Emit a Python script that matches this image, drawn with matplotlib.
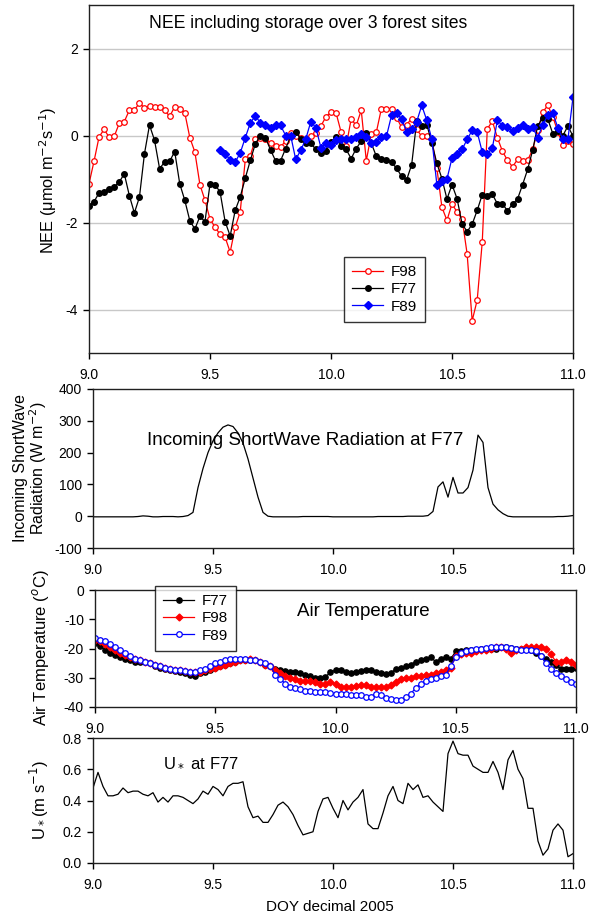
import numpy as np
import matplotlib
matplotlib.use("Agg")
import matplotlib.pyplot as plt

plt.rcParams['font.family'] = ['Liberation Sans', 'DejaVu Sans']
plt.rcParams['axes.unicode_minus'] = False

# half-hourly values, DOY 9.0 .. 11.0 (97 points)
nee_f98 = [-1.11, -0.59, -0.03, 0.14, -0.04, -0.02, 0.28, 0.32, 0.58, 0.58,
           0.75, 0.63, 0.68, 0.66, 0.66, 0.58, 0.44, 0.66, 0.62, 0.52,
           -0.05, -0.38, -1.13, -1.49, -1.92, -2.11, -2.27, -2.34, -2.68, -2.11,
           -1.75, -0.55, -0.46, -0.09, -0.05, -0.08, -0.17, -0.25, -0.26, -0.13,
           0.06, 0.0, -0.05, -0.15, -0.02, 0.06, 0.22, 0.43, 0.54, 0.52,
           0.08, -0.25, 0.38, 0.23, 0.58, -0.58, 0.04, 0.08, 0.62, 0.62,
           0.60, 0.41, 0.19, 0.25, 0.39, 0.14, -0.02, 0.0, -0.09, -0.75,
           -1.65, -1.95, -1.57, -1.76, -1.92, -2.72, -4.26, -3.78, -2.45, 0.15,
           0.33, -0.05, -0.36, -0.57, -0.72, -0.55, -0.58, -0.57, -0.32, 0.12,
           0.54, 0.69, 0.43, 0.08, -0.21, -0.13, -0.19]

nee_f77 = [-1.61, -1.52, -1.32, -1.31, -1.22, -1.18, -1.07, -0.88, -1.38, -1.78,
           -1.42, -0.42, 0.24, -0.11, -0.76, -0.61, -0.59, -0.37, -1.11, -1.49,
           -1.96, -2.15, -1.86, -1.98, -1.12, -1.13, -1.30, -1.98, -2.31, -1.72,
           -1.41, -0.98, -0.57, -0.19, 0.0, -0.05, -0.33, -0.58, -0.58, -0.30,
           -0.02, 0.08, -0.08, -0.18, -0.18, -0.32, -0.40, -0.36, -0.15, -0.04,
           -0.23, -0.32, -0.53, -0.30, -0.13, 0.05, -0.18, -0.48, -0.55, -0.57,
           -0.62, -0.75, -0.94, -1.02, -0.67, 0.33, 0.22, 0.25, -0.17, -0.64,
           -0.99, -1.46, -1.13, -1.45, -2.03, -2.21, -2.04, -1.72, -1.36, -1.38,
           -1.35, -1.57, -1.57, -1.73, -1.58, -1.46, -1.13, -0.78, -0.34, 0.22,
           0.41, 0.38, 0.04, 0.10, 0.0, 0.22, -0.02]

# F89 has no data before DOY 9.54
nee_f89 = [None] * 26 + [
    -0.34, -0.42, -0.56, -0.61, -0.40, -0.05, 0.29, 0.45, 0.29, 0.24,
    0.18, 0.23, 0.23, 0.0, 0.0, -0.55, -0.34, -0.08, 0.32, 0.18,
    -0.28, -0.18, -0.21, -0.11, -0.09, -0.08, -0.07, -0.03, 0.04, -0.03,
    -0.17, -0.15, -0.03, -0.02, 0.46, 0.51, 0.39, 0.08, 0.14, 0.32,
    0.69, 0.35, -0.08, -1.13, -1.05, -1.0, -0.52, -0.42, -0.32, -0.09,
    0.12, 0.08, -0.38, -0.42, -0.29, 0.35, 0.22, 0.2, 0.1, 0.17,
    0.24, 0.15, 0.19, -0.05, 0.25, 0.46, 0.51, 0.18, -0.09, -0.08,
    0.88]

sw_f77 = [-2, -2, -2, -2, -2, -2, -2, -2, -2, -1, 1, 0, -2, -2, -1, -1, -1, -2, -1,
          2, 12, 90, 150, 200, 237, 262, 280, 287, 282, 262, 230, 180, 120, 60, 12, 0,
          -2, -2, -2, -2, -2, -2, -1, -1, -1, -1, -1, -1, -2, -2, -2, -2, -2, -2, -2,
          -2, -2, -1, -1, -1, -1, -1, -1, 0, 0, 0, 0,
          2, 15, 92, 108, 60, 122, 73, 73, 90, 145, 255, 232, 90, 38, 20, 8, 0,
          -2, -2, -2, -2, -2, -2, -2, -2, -2, -1, -1, 0, 2]

ta_f77 = [-18, -19, -20.5, -21.5, -22.3, -23, -23.5, -24, -24.5, -24.5,
          -24.5, -25, -26, -26.5, -27, -27.5, -27.8, -28, -28.5, -29,
          -29.3, -28.5, -28, -27.5, -26.5, -26, -25.5, -25, -24.5, -24,
          -23.8, -23.8, -24, -24.5, -25.5, -26, -27, -27.5, -27.8, -28,
          -28.2, -28.5, -29, -29.5, -30, -30.2, -29.8, -28, -27.5, -27.5,
          -28, -28.3, -28, -27.8, -27.5, -27.5, -28, -28.5, -28.8, -28.5,
          -27, -26.5, -26, -25.5, -24.5, -24, -23.5, -23, -24.5, -23.5,
          -23, -23.5, -21, -20.8, -20.5, -20.5, -20.5, -20.3, -20, -20,
          -20, -19.5, -19.5, -19.8, -20, -20, -20, -20.5, -21.5, -22.5,
          -23.5, -24.5, -25.5, -27, -27, -27, -26.8]

ta_f98 = [-17, -17.5, -18.5, -19.5, -20.5, -21.5, -22.3, -23, -23.5, -24,
          -24.5, -25, -25.5, -26, -26.5, -27, -27.2, -27.5, -27.8, -28,
          -28, -28, -27.5, -27, -26.5, -26, -25.5, -25, -24.5, -24,
          -23.8, -23.5, -24, -24.5, -25.5, -26, -27.5, -28.5, -29.5, -30,
          -30.5, -31, -31, -31, -31.5, -32, -32, -31.5, -32, -33,
          -33, -33, -32.8, -32.5, -32.5, -33, -33, -33, -33.2, -32.5,
          -31.5, -30.5, -30, -30, -29.5, -29.5, -29, -29, -28.5, -28,
          -27.5, -26.5, -22.5, -22, -21.5, -21.5, -21, -20.5, -20.5, -20,
          -19.5, -19.5, -20, -21.5, -20.5, -20, -19.5, -19.5, -19.5, -19.5,
          -20, -22, -24.5, -24.5, -24, -24.5, -25.5]

ta_f89 = [-16.5, -17, -17.5, -18.5, -19.5, -20.5, -21.5, -22.5, -23.5, -24,
          -24.5, -25, -25.5, -26, -26.5, -27, -27.2, -27.5, -27.8, -28,
          -28, -27.5, -27, -26, -25, -24.5, -24, -23.5, -23.5, -23.5,
          -23.5, -23.8, -24, -24.5, -25, -26, -29, -30.5, -32, -33,
          -33.5, -34, -34.5, -34.5, -35, -35, -35, -35.3, -35.5, -35.5,
          -35.5, -36, -36, -36, -36.5, -36.5, -35.5, -36, -37, -37.3,
          -37.5, -37.5, -36.5, -35.5, -33.5, -32, -31, -30.5, -30, -29.5,
          -29, -26, -23, -21.5, -21, -20.5, -20.2, -20, -19.8, -19.5,
          -19.5, -19.5, -19.5, -19.8, -20, -20.5, -20.5, -20.5, -21, -22.5,
          -25, -27, -28.5, -29.5, -30.5, -31.5, -32]

ustar_f77 = [0.48, 0.58, 0.49, 0.43, 0.43, 0.44, 0.48, 0.45, 0.46, 0.46,
             0.44, 0.43, 0.45, 0.39, 0.42, 0.39, 0.43, 0.43, 0.42, 0.40,
             0.38, 0.41, 0.46, 0.44, 0.49, 0.47, 0.43, 0.49, 0.51, 0.51,
             0.52, 0.36, 0.29, 0.30, 0.26, 0.26, 0.31, 0.37, 0.39, 0.36,
             0.31, 0.24, 0.18, 0.19, 0.20, 0.33, 0.41, 0.42, 0.35, 0.29,
             0.40, 0.34, 0.39, 0.42, 0.47, 0.25, 0.22, 0.22, 0.32, 0.43,
             0.49, 0.40, 0.38, 0.51, 0.47, 0.50, 0.42, 0.43, 0.39, 0.36,
             0.33, 0.70, 0.78, 0.70, 0.69, 0.69, 0.62, 0.60, 0.58, 0.58,
             0.65, 0.58, 0.47, 0.66, 0.72, 0.60, 0.54, 0.35, 0.35, 0.14,
             0.05, 0.09, 0.21, 0.25, 0.21, 0.04, 0.06]

xticks = [9.0, 9.5, 10.0, 10.5, 11.0]
xticklabels = ['9.0', '9.5', '10.0', '10.5', '11.0']

W, H = 595, 919


def px_axes(fig, left, top, right, bottom):
    # axes rectangle from pixel edges
    return fig.add_axes([left / W, 1 - bottom / H, (right - left) / W, (bottom - top) / H])


def px_text(fig, x, y, s, **kw):
    return fig.text(x / W, 1 - y / H, s, ha='center', va='center', **kw)


def style_axes(ax):
    for s in ax.spines.values():
        s.set_linewidth(1.0)
        s.set_color('#202020')
    ax.tick_params(direction='out', length=4, width=1, labelsize=10,
                   top=False, right=False)
    ax.tick_params(axis='x', pad=6.5)
    ax.tick_params(axis='y', pad=4)
    ax.set_xlim(9.0, 11.0)
    ax.set_xticks(xticks)
    ax.set_xticklabels(xticklabels)


def doy(values):
    return 9.0 + np.arange(len(values)) / 48.0


def box_legend(ax, handles, x, y):
    leg = ax.legend(handles=handles, loc='upper left',
                    bbox_to_anchor=(x / W, 1 - y / H), bbox_transform=fig.transFigure,
                    fontsize=11, frameon=True, fancybox=False, borderaxespad=0,
                    handlelength=2.0, handletextpad=0.5, labelspacing=0.2,
                    borderpad=0.55)
    leg.get_frame().set_edgecolor('black')
    leg.get_frame().set_linewidth(1.0)
    leg.set_zorder(5)
    return leg


fig = plt.figure(figsize=(W / 100, H / 100), dpi=100)

# --- NEE panel
ax1 = px_axes(fig, 89, 5, 573, 353)
style_axes(ax1)
ax1.set_ylim(-5, 3)
ax1.set_yticks([-4, -2, 0, 2])
for yv in [-4, -2, 0, 2]:
    ax1.axhline(yv, color='#c8c8c8', lw=1.0, zorder=0)
f89 = np.array([np.nan if v is None else v for v in nee_f89])
l98, = ax1.plot(doy(nee_f98), nee_f98, '-o', color='red', lw=0.9, ms=4,
                mfc='white', mec='red', mew=0.9, label='F98')
l77, = ax1.plot(doy(nee_f77), nee_f77, '-o', color='black', lw=0.9, ms=4,
                mfc='black', mec='black', label='F77')
l89, = ax1.plot(doy(f89), f89, '-D', color='blue', lw=0.9, ms=3.8,
                mfc='blue', mec='blue', label='F89')
px_text(fig, 48, 180, 'NEE (μmol m$^{-2}$s$^{-1}$)', rotation=90, fontsize=11.8)
px_text(fig, 308, 24, 'NEE including storage over 3 forest sites', fontsize=12.7)
box_legend(ax1, [l98, l77, l89], 344, 257)

# --- Shortwave panel
ax2 = px_axes(fig, 93, 389, 573, 548)
style_axes(ax2)
ax2.plot(doy(sw_f77), sw_f77, color='black', lw=0.9)
ax2.set_ylim(-100, 400)
ax2.set_yticks([-100, 0, 100, 200, 300, 400])
px_text(fig, 31, 468, 'Incoming ShortWave\nRadiation (W m$^{-2}$)', rotation=90,
        fontsize=11.5, linespacing=1.0)
px_text(fig, 305, 440, 'Incoming ShortWave Radiation at F77', fontsize=13.5)

# --- Air temperature panel
ax3 = px_axes(fig, 95, 590, 576, 707)
style_axes(ax3)
t77, = ax3.plot(doy(ta_f77), ta_f77, '-o', color='black', lw=0.9, ms=3.8,
                mfc='black', mec='black', label='F77')
t98, = ax3.plot(doy(ta_f98), ta_f98, '-D', color='red', lw=0.9, ms=3.5,
                mfc='red', mec='red', label='F98')
t89, = ax3.plot(doy(ta_f89), ta_f89, '-o', color='blue', lw=0.9, ms=4,
                mfc='white', mec='blue', mew=0.9, label='F89')
ax3.set_ylim(-40, 0)
ax3.set_yticks([-40, -30, -20, -10, 0])
px_text(fig, 41, 648, 'Air Temperature ($^o$C)', rotation=90, fontsize=12)
px_text(fig, 363, 612, 'Air Temperature', fontsize=13.5)
box_legend(ax3, [t77, t98, t89], 155, 586)

# --- U* panel
ax4 = px_axes(fig, 93, 738, 573, 863)
style_axes(ax4)
ax4.plot(doy(ustar_f77), ustar_f77, color='black', lw=0.9)
ax4.set_ylim(0, 0.8)
ax4.set_yticks([0.0, 0.2, 0.4, 0.6, 0.8])
ax4.set_yticklabels(['0.0', '0.2', '0.4', '0.6', '0.8'])
px_text(fig, 39, 800, 'U$_*$(m s$^{-1}$)', rotation=90, fontsize=12)
px_text(fig, 201, 762, 'U$_*$ at F77', fontsize=12)
px_text(fig, 330, 907, 'DOY decimal 2005', fontsize=11)

fig.savefig('out.png', dpi=100)
